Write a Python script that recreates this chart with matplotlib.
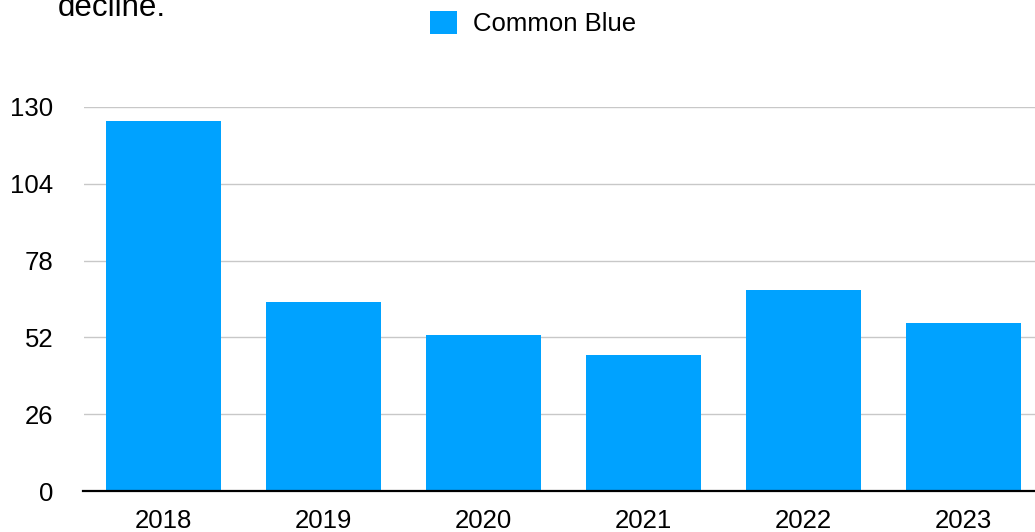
import numpy as np
import matplotlib.pyplot as plt
from matplotlib.patches import Patch

plt.rcParams['font.family'] = ['Liberation Sans', 'DejaVu Sans']

years = ["2018", "2019", "2020", "2021", "2022", "2023"]
common_blue = [125, 64, 53, 46, 68, 57]
yticks = [0, 26, 52, 78, 104, 130]

W, H = 1035, 532
fig = plt.figure(figsize=(W / 100, H / 100), dpi=100)
# plot area runs a little past the right edge of the canvas
ax = fig.add_axes([83.5 / W, 1 - 491.3 / H, 960 / W, 384.6 / H])

x = np.arange(len(years))
ax.bar(x, common_blue, width=0.72, color='#00A2FF', zorder=3)

ax.set_xlim(-0.5, len(years) - 0.5)
ax.set_ylim(0, 130)
ax.set_yticks(yticks)
ax.set_yticklabels([str(v) for v in yticks])
ax.set_xticks(x)
ax.set_xticklabels(years)
ax.tick_params(axis='both', length=0, labelsize=18.5, colors='black')
ax.tick_params(axis='y', pad=21.6)
ax.tick_params(axis='x', pad=13)
ax.yaxis.grid(True, color='#c8c8c8', linewidth=1.0, zorder=0)
for s in ['top', 'right', 'left']:
    ax.spines[s].set_visible(False)
ax.spines['bottom'].set_color('black')
ax.spines['bottom'].set_linewidth(1.6)
ax.spines['bottom'].set_zorder(4)

# last line of the wrapped subtitle, clipped by the top edge
fig.text(58 / W, 1 - 16 / H, "decline.", fontsize=22.5, va='baseline', ha='left')

handle = Patch(facecolor='#00A2FF', edgecolor='none')
fig.legend([handle], ["Common Blue"], loc='center',
           bbox_to_anchor=(533 / W, 1 - 23.5 / H), frameon=False,
           fontsize=18.5, handlelength=1.05, handleheight=1.05,
           handletextpad=0.65, borderpad=0, borderaxespad=0)

fig.savefig('out.png', dpi=100)
